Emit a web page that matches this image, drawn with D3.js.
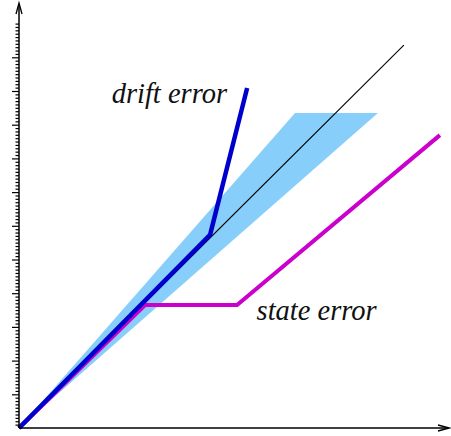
<!DOCTYPE html>
<html>
<head>
<meta charset="utf-8">
<script src="https://cdn.jsdelivr.net/npm/d3@7"></script>
<style>
  body { margin: 0; background: #fff; }
  svg { display: block; }
</style>
</head>
<body>
<div id="chart"></div>
<script>
// values in axis units (one major tick = 1)
const idealX = [0, 11.42];
const idealY = [0, 11.36];
const driftX = [0, 5.67, 6.77];
const driftY = [0, 5.73, 10.09];
const stateX = [0, 3.74, 6.47, 12.49];
const stateY = [0, 3.65, 3.65, 8.69];
const coneX = [0, 8.19, 10.65];
const coneY = [0, 9.35, 9.35];
const labels = ["drift error", "state error"];
const labelX = [2.75, 7.05];
const labelY = [9.65, 3.2];

const W = 451, H = 436;
const unit = 33.7;
const x0 = 19, y0 = 428;

const svg = d3.select("#chart").append("svg")
  .attr("width", W)
  .attr("height", H);

const x = d3.scaleLinear().domain([0, 12.75]).range([x0, x0 + 12.75 * unit]);
const y = d3.scaleLinear().domain([0, 12.6]).range([y0, y0 - 12.6 * unit]);

const pts = (xs, ys) => xs.map((v, i) => [x(v), y(ys[i])]);
const line = d3.line();

// uncertainty cone
svg.append("path")
  .attr("d", line(pts(coneX, coneY)) + "Z")
  .attr("fill", "#87cefa");

// ideal
svg.append("path")
  .attr("d", line(pts(idealX, idealY)))
  .attr("fill", "none")
  .attr("stroke", "#000")
  .attr("stroke-width", 1.1);

// state error
svg.append("path")
  .attr("d", line(pts(stateX, stateY)))
  .attr("fill", "none")
  .attr("stroke", "#cc00cc")
  .attr("stroke-width", 4);

// drift error
svg.append("path")
  .attr("d", line(pts(driftX, driftY)))
  .attr("fill", "none")
  .attr("stroke", "#0000cc")
  .attr("stroke-width", 4.5);

// y axis with minor ticks
const minor = d3.range(1, 121).map(d => d / 10);
svg.append("g")
  .attr("transform", `translate(${x0},0)`)
  .call(d3.axisLeft(y).tickValues(minor.filter(d => Math.abs(d - Math.round(d)) > 1e-6 || d === 12))
    .tickSize(3.5).tickFormat(""))
  .call(g => g.select(".domain").remove())
  .selectAll("line").attr("stroke-width", 1.2);

svg.append("g")
  .attr("transform", `translate(${x0},0)`)
  .call(d3.axisLeft(y).tickValues(d3.range(1, 12)).tickSize(7).tickFormat(""))
  .call(g => g.select(".domain").remove())
  .selectAll("line").attr("stroke-width", 1.2);

// axis lines with arrows
svg.append("line")
  .attr("x1", x0).attr("y1", y0)
  .attr("x2", x0).attr("y2", 4)
  .attr("stroke", "#000").attr("stroke-width", 1.5);
svg.append("line")
  .attr("x1", x0).attr("y1", y0)
  .attr("x2", 447).attr("y2", y0)
  .attr("stroke", "#000").attr("stroke-width", 1.5);

svg.append("path")
  .attr("d", `M${x0 - 3},${14} L${x0},${3} L${x0 + 3},${14}`)
  .attr("fill", "none").attr("stroke", "#000").attr("stroke-width", 1.3);
svg.append("path")
  .attr("d", `M${438},${y0 - 3} L${449},${y0} L${438},${y0 + 3}`)
  .attr("fill", "none").attr("stroke", "#000").attr("stroke-width", 1.3);

// labels
svg.selectAll("text.lbl")
  .data(labels)
  .enter()
  .append("text")
  .attr("class", "lbl")
  .attr("x", (d, i) => x(labelX[i]))
  .attr("y", (d, i) => y(labelY[i]))
  .style("font-family", "'Liberation Serif', serif")
  .style("font-style", "italic")
  .style("font-size", "28.5px")
  .attr("fill", "#111")
  .text(d => d);
</script>
</body>
</html>
